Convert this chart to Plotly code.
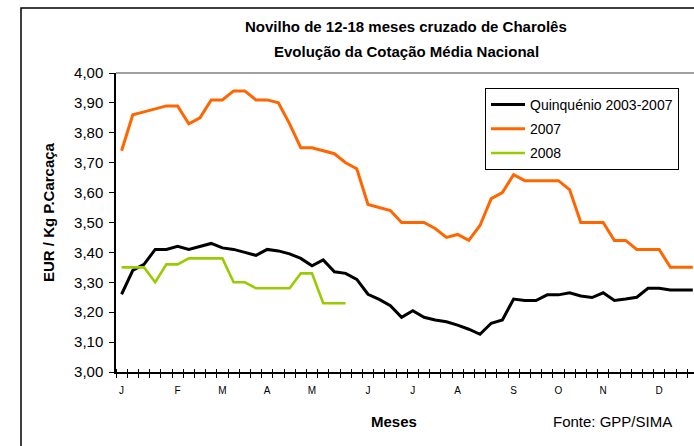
import plotly.graph_objects as go

# ---------------- data ----------------
weeks = list(range(52))
month_labels = ["J", "F", "M", "A", "M", "J", "J", "A", "S", "O", "N", "D"]
month_weeks = [0, 5, 9, 13, 17, 22, 26, 30, 35, 39, 43, 48]

quinquenio = [3.26, 3.34, 3.36, 3.41, 3.41, 3.42, 3.41, 3.42, 3.43, 3.415,
              3.41, 3.40, 3.39, 3.41, 3.405, 3.395, 3.38, 3.355, 3.375, 3.335,
              3.33, 3.31, 3.26, 3.243, 3.222, 3.183, 3.205, 3.183, 3.174, 3.168,
              3.157, 3.143, 3.126, 3.163, 3.174, 3.244, 3.239, 3.239, 3.258, 3.258,
              3.265, 3.254, 3.249, 3.265, 3.239, 3.244, 3.25, 3.28, 3.28, 3.274,
              3.274, 3.274]

y2007 = [3.74, 3.86, 3.87, 3.88, 3.89, 3.89, 3.83, 3.85, 3.91, 3.91,
         3.94, 3.94, 3.91, 3.91, 3.90, 3.83, 3.75, 3.75, 3.74, 3.73,
         3.70, 3.68, 3.56, 3.55, 3.54, 3.50, 3.50, 3.50, 3.48, 3.45,
         3.46, 3.44, 3.49, 3.58, 3.60, 3.66, 3.64, 3.64, 3.64, 3.64,
         3.61, 3.50, 3.50, 3.50, 3.44, 3.44, 3.41, 3.41, 3.41, 3.35,
         3.35, 3.35]

y2008 = [3.35, 3.35, 3.35, 3.30, 3.36, 3.36, 3.38, 3.38, 3.38, 3.38,
         3.30, 3.30, 3.28, 3.28, 3.28, 3.28, 3.33, 3.33, 3.23, 3.23,
         3.23]

y_ticks = [3.00, 3.10, 3.20, 3.30, 3.40, 3.50, 3.60, 3.70, 3.80, 3.90, 4.00]

series_names = ["Quinquénio 2003-2007", "2007", "2008"]
series_colors = ["#000000", "#FF6600", "#99CC00"]

# ---------------- layout geometry ----------------
W, H = 694, 446
L, R, T, B = 116, 0, 73, 74
PW, PH = W - L - R, H - T - B
CAT_W = 11.2


def px2x(px):
    return (px - L) / PW


def py2y(py):
    return (H - B - py) / PH


FONT = "Liberation Sans, Arial, sans-serif"

fig = go.Figure()
for name, vals, col, lw in zip(series_names, [quinquenio, y2007, y2008],
                               series_colors, [3, 3, 2.6]):
    fig.add_trace(go.Scatter(
        x=weeks[:len(vals)], y=vals, mode="lines", name=name,
        legendgroup=name,
        line=dict(color=col, width=lw), xaxis="x", yaxis="y"))

# invisible trace to activate the label axis
fig.add_trace(go.Scatter(x=[weeks[0]], y=[y_ticks[0]], xaxis="x2", yaxis="y",
                         mode="markers", marker=dict(opacity=0),
                         showlegend=False, hoverinfo="skip"))

xr = [-0.5, -0.5 + PW / CAT_W]
boundaries = [w - 0.5 for w in weeks] + [weeks[-1] + 0.5]

fig.update_layout(
    width=W, height=H,
    margin=dict(l=L, r=R, t=T, b=B, pad=0),
    paper_bgcolor="white", plot_bgcolor="white",
    separators=",.",
    font=dict(family=FONT, color="#000000"),
    showlegend=True,
    legend=dict(x=px2x(485), y=py2y(88), xanchor="left", yanchor="top",
                bgcolor="white", bordercolor="#000000", borderwidth=1,
                font=dict(family=FONT, size=14, color="#000000"),
                tracegroupgap=3, itemwidth=34),
    xaxis=dict(range=xr, tickmode="array", tickvals=boundaries,
               showticklabels=False, ticks="outside", ticklen=4,
               tickcolor="#000000", showline=True, linecolor="#000000",
               linewidth=1.5, showgrid=False, zeroline=False),
    xaxis2=dict(range=xr, overlaying="x", anchor="y", side="bottom",
                tickmode="array", tickvals=month_weeks, ticktext=month_labels,
                ticks="", showline=False, showgrid=False, zeroline=False,
                tickfont=dict(family=FONT, size=10, color="#000000"),
                ticklabelstandoff=11,
                minor=dict(tickmode="array", tickvals=boundaries,
                           ticks="inside", ticklen=3, tickcolor="#000000")),
    yaxis=dict(range=[3.0, 4.0], tickmode="array", tickvals=y_ticks,
               tickformat=".2f", ticks="outside", ticklen=5,
               tickcolor="#000000", showline=True, linecolor="#000000",
               linewidth=1.5, showgrid=False, zeroline=False,
               tickfont=dict(family=FONT, size=15, color="#000000"),
               ticklabelstandoff=3),
)

# plot-area top border (grey) and outer chart frame
fig.add_shape(type="line", xref="paper", yref="paper", x0=0, x1=1.05,
              y0=1, y1=1, line=dict(color="#808080", width=1.5))
fig.add_shape(type="path", xref="paper", yref="paper",
              path=f"M {px2x(21)},{py2y(460)} L {px2x(21)},{py2y(8)} L {px2x(710)},{py2y(8)}",
              line=dict(color="#000000", width=1.5))

annotations = [
    dict(text="<b>Novilho de 12-18 meses cruzado de Charolês</b>", x=px2x(406), y=py2y(26),
         font=dict(size=15)),
    dict(text="<b>Evolução da Cotação Média Nacional</b>", x=px2x(406), y=py2y(51),
         font=dict(size=15)),
    dict(text="<b>EUR / Kg P.Carcaça</b>", x=px2x(48), y=py2y(212), textangle=-90,
         font=dict(size=15)),
    dict(text="<b>Meses</b>", x=px2x(394), y=py2y(421), font=dict(size=15)),
    dict(text="Fonte: GPP/SIMA", x=px2x(612), y=py2y(421), font=dict(size=15)),
]
for a in annotations:
    a.update(xref="paper", yref="paper", showarrow=False, xanchor="center",
             yanchor="middle")
    a["font"].update(family=FONT, color="#000000")
    fig.add_annotation(**a)

fig.write_html("out.html",
               config={"displayModeBar": False},
               post_script="document.body.style.margin='0px';document.body.style.overflow='hidden';")
